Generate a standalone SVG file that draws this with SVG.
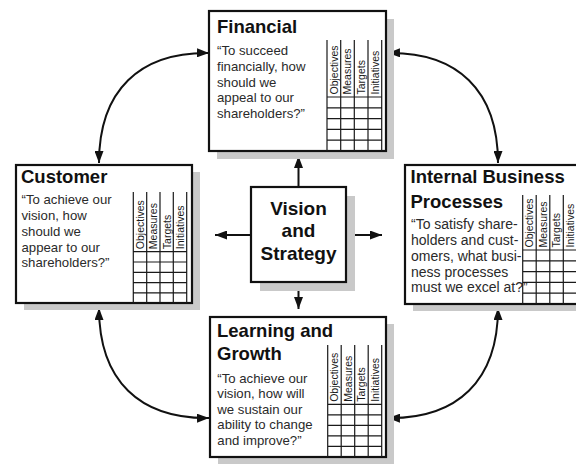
<svg xmlns="http://www.w3.org/2000/svg" width="576" height="466" viewBox="0 0 576 466">
  <defs>
    <style>
      .shadow { fill: #c9c9c9; }
      .box { fill: #ffffff; stroke: #111111; stroke-width: 2.2; }
      .grid { stroke: #1a1a1a; stroke-width: 1.2; fill: none; }
      .title { font-family: "Liberation Sans", Arial, sans-serif; font-weight: bold; font-size: 18.5px; fill: #111111; }
      .quote { font-family: "Liberation Sans", Arial, sans-serif; font-size: 13.2px; fill: #2a2a2a; }
      .head { font-family: "Liberation Sans", Arial, sans-serif; font-size: 10.5px; fill: #1a1a1a; }
      .center { font-family: "Liberation Sans", Arial, sans-serif; font-weight: bold; font-size: 19px; fill: #111111; text-anchor: middle; }
      .link { fill: none; stroke: #111111; stroke-width: 2; }
    </style>
    <marker id="arrow" viewBox="0 0 12 9" refX="12" refY="4.5" markerWidth="12" markerHeight="9" markerUnits="userSpaceOnUse" orient="auto-start-reverse">
      <path d="M0,0 L12,4.5 L0,9 z" fill="#111111"/>
    </marker>
  </defs>

  <rect width="576" height="466" fill="#ffffff"/>

  <!-- connectors -->
  <g id="connectors">
    <!-- spokes from the centre -->
    <path class="link" d="M298.5,187 L298.5,156" marker-end="url(#arrow)"/>
    <path class="link" d="M298.5,282 L298.5,309" marker-end="url(#arrow)"/>
    <path class="link" d="M251,235 L215,235" marker-end="url(#arrow)"/>
    <path class="link" d="M346,235 L382,235" marker-end="url(#arrow)"/>
    <!-- outer ring -->
    <path class="link" d="M99,163 C99,90 140,52 209,53" marker-start="url(#arrow)" marker-end="url(#arrow)"/>
    <path class="link" d="M498,163 C498,90 457,52 388,53" marker-start="url(#arrow)" marker-end="url(#arrow)"/>
    <path class="link" d="M99,308 C99,381 140,419 209,418" marker-start="url(#arrow)" marker-end="url(#arrow)"/>
    <path class="link" d="M498,308 C498,381 457,419 388,418" marker-start="url(#arrow)" marker-end="url(#arrow)"/>
  </g>

  <!-- Financial -->
  <g id="financial">
    <rect class="shadow" x="217" y="19" width="177" height="140"/>
    <rect class="box" x="209" y="11" width="177" height="140"/>
    <text class="title" x="217" y="33">Financial</text>
    <text class="quote" x="217" y="55">“To succeed</text>
    <text class="quote" x="217" y="71">financially, how</text>
    <text class="quote" x="217" y="86.7">should we</text>
    <text class="quote" x="217" y="102.4">appeal to our</text>
    <text class="quote" x="217" y="118">shareholders?”</text>
    <path class="grid" d="M327,40 V151 M340.7,40 V151 M354.3,40 V151 M368,40 V151 M381.7,40 V151 M327,97 H381.7 M327,107.8 H381.7 M327,118.6 H381.7 M327,129.4 H381.7 M327,140.2 H381.7"/>
    <text class="head" transform="translate(337.5,94.5) rotate(-90)">Objectives</text>
    <text class="head" transform="translate(351.2,94.5) rotate(-90)">Measures</text>
    <text class="head" transform="translate(364.8,94.5) rotate(-90)">Targets</text>
    <text class="head" transform="translate(378.5,94.5) rotate(-90)">Initiatives</text>
  </g>

  <!-- Customer -->
  <g id="customer">
    <rect class="shadow" x="24" y="172" width="176" height="138"/>
    <rect class="box" x="16" y="165" width="176" height="138"/>
    <text class="title" x="21" y="183.3">Customer</text>
    <text class="quote" x="21.5" y="204.3">“To achieve our</text>
    <text class="quote" x="21.5" y="220">vision, how</text>
    <text class="quote" x="21.5" y="235.7">should we</text>
    <text class="quote" x="21.5" y="251.6">appear to our</text>
    <text class="quote" x="21.5" y="267.3">shareholders?”</text>
    <path class="grid" d="M133.3,192 V303 M146.7,192 V303 M160,192 V303 M173.3,192 V303 M186.7,192 V303 M133.3,251.7 H186.7 M133.3,262 H186.7 M133.3,272.3 H186.7 M133.3,282.6 H186.7 M133.3,292.9 H186.7"/>
    <text class="head" transform="translate(143.8,249.2) rotate(-90)">Objectives</text>
    <text class="head" transform="translate(157.2,249.2) rotate(-90)">Measures</text>
    <text class="head" transform="translate(170.5,249.2) rotate(-90)">Targets</text>
    <text class="head" transform="translate(183.8,249.2) rotate(-90)">Initiatives</text>
  </g>

  <!-- Internal Business Processes -->
  <g id="internal">
    <rect class="shadow" x="413" y="172" width="177" height="139"/>
    <rect class="box" x="405" y="165" width="177" height="139"/>
    <text class="title" x="410.5" y="183.3">Internal Business</text>
    <text class="title" x="410.5" y="207.7">Processes</text>
    <text class="quote" x="411" y="229" style="font-size:14px">“To satisfy share-</text>
    <text class="quote" x="411" y="245" style="font-size:14px">holders and cust-</text>
    <text class="quote" x="411" y="261" style="font-size:14px">omers, what busi-</text>
    <text class="quote" x="411" y="276.7" style="font-size:14px">ness processes</text>
    <text class="quote" x="411" y="292.3" style="font-size:14px">must we excel at?”</text>
    <path class="grid" d="M522.7,195 V304 M536.2,195 V304 M549.8,195 V304 M563.3,195 V304 M576.8,195 V304 M522.7,250 H576.8 M522.7,260.8 H576.8 M522.7,271.6 H576.8 M522.7,282.4 H576.8 M522.7,293.2 H576.8"/>
    <text class="head" transform="translate(533.2,247.5) rotate(-90)">Objectives</text>
    <text class="head" transform="translate(546.7,247.5) rotate(-90)">Measures</text>
    <text class="head" transform="translate(560.3,247.5) rotate(-90)">Targets</text>
    <text class="head" transform="translate(573.8,247.5) rotate(-90)">Initiatives</text>
  </g>

  <!-- Learning and Growth -->
  <g id="learning">
    <rect class="shadow" x="218" y="324" width="176" height="140"/>
    <rect class="box" x="210" y="317" width="176" height="140"/>
    <text class="title" x="217" y="336.7">Learning and</text>
    <text class="title" x="217" y="360">Growth</text>
    <text class="quote" x="217.3" y="382.7">“To achieve our</text>
    <text class="quote" x="217.3" y="398.3">vision, how will</text>
    <text class="quote" x="217.3" y="413.8">we sustain our</text>
    <text class="quote" x="217.3" y="429.4">ability to change</text>
    <text class="quote" x="217.3" y="445">and improve?”</text>
    <path class="grid" d="M327.7,345 V457 M341.2,345 V457 M354.7,345 V457 M368.2,345 V457 M381.7,345 V457 M327.7,404.3 H381.7 M327.7,414.8 H381.7 M327.7,425.3 H381.7 M327.7,435.8 H381.7 M327.7,446.3 H381.7"/>
    <text class="head" transform="translate(338.2,401.8) rotate(-90)">Objectives</text>
    <text class="head" transform="translate(351.7,401.8) rotate(-90)">Measures</text>
    <text class="head" transform="translate(365.2,401.8) rotate(-90)">Targets</text>
    <text class="head" transform="translate(378.7,401.8) rotate(-90)">Initiatives</text>
  </g>

  <!-- Vision and Strategy -->
  <g id="vision">
    <rect class="shadow" x="260" y="196" width="95" height="95"/>
    <rect class="box" x="251" y="187" width="95" height="95"/>
    <text class="center" x="298.5" y="215">Vision</text>
    <text class="center" x="298.5" y="237">and</text>
    <text class="center" x="298.5" y="260">Strategy</text>
  </g>
</svg>
